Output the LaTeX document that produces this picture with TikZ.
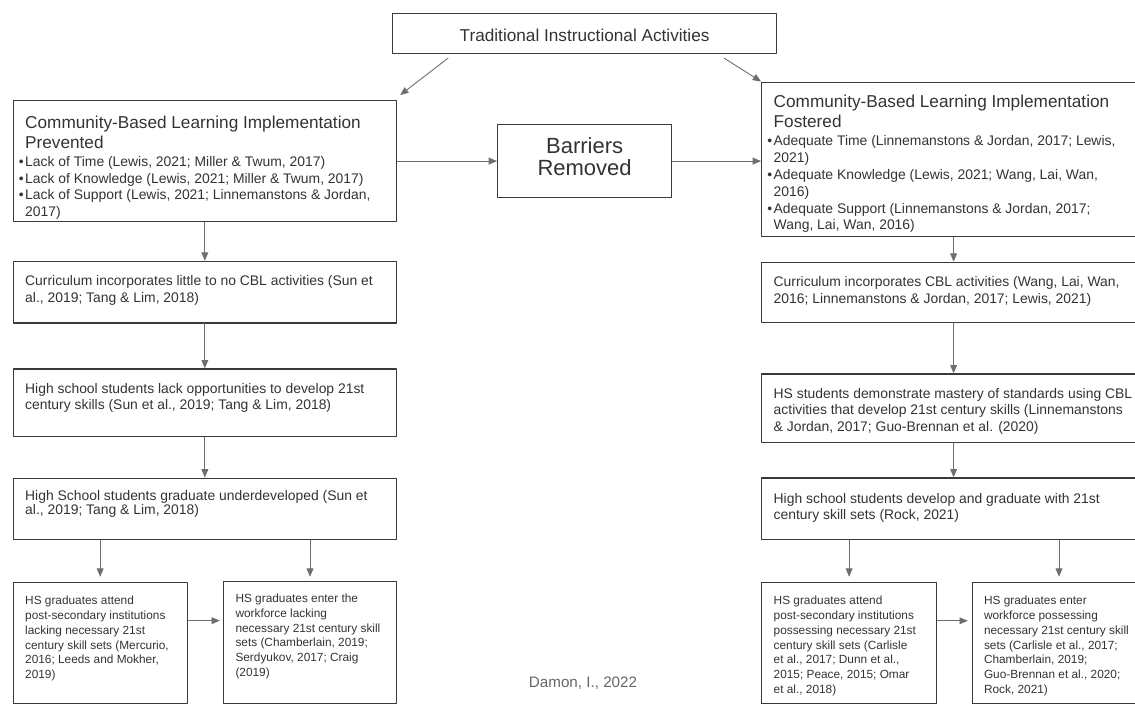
\documentclass[tikz,border=0pt]{standalone}
\usepackage{fontspec}
\setmainfont{Liberation Sans}
\usepackage{tikz}
\usetikzlibrary{arrows}
\definecolor{boxline}{HTML}{3A3A3A}
\definecolor{txtcol}{HTML}{333333}
\definecolor{arrcol}{HTML}{6E6E6E}
\definecolor{signcol}{HTML}{666666}
\newcommand{\bulletmark}{\llap{\textbullet\kern1.5pt}}

\begin{document}
\begin{tikzpicture}[line cap=round,line join=round,>=triangle 45,x=1pt,y=-1pt,
  box/.style={draw=boxline,line width=1.2pt,anchor=north west,inner sep=0pt},
  txt/.style={anchor=north west,inner sep=0pt,align=left,text=txtcol,font=\fontsize{13.9}{16.5}\selectfont},
  ttl/.style={txt,font=\fontsize{17.2}{20}\selectfont},
  sml/.style={txt,font=\fontsize{11.85}{14.7}\selectfont},
  arr/.style={->,draw=arrcol,line width=0.9pt}]
\useasboundingbox (0,0) rectangle (1135,704);
\clip (0,0) rectangle (1135,704);

\node[box,minimum width=384,minimum height=40] (top) at (392,13) {};
\node[ttl,anchor=center,align=center] (top-t) at ([yshift=-1.5pt]top.center) {Traditional Instructional Activities};

\node[box,minimum width=383.5,minimum height=121] (lbig) at (12.5,100) {};
\node[ttl] (lbig-t) at ([shift={(12.5,16.2)}]lbig.north west) {Community-Based Learning Implementation\\Prevented};
\node[txt] (lbig-b) at ([shift={(12.5,56.7)}]lbig.north west) {\bulletmark Lack of Time (Lewis, 2021; Miller \& Twum, 2017)\\
\bulletmark Lack of Knowledge (Lewis, 2021; Miller \& Twum, 2017)\\
\bulletmark Lack of Support (Lewis, 2021; Linnemanstons \& Jordan,\\
2017)};

\node[box,minimum width=174,minimum height=73] (barriers) at (497,124) {};
\node[txt,anchor=center,align=center,font=\fontsize{22}{22}\selectfont] (barriers-t) at ([yshift=4.4pt]barriers.center) {Barriers\\Removed};

\node[box,minimum width=384,minimum height=154.5] (rbig) at (761,81.5) {};
\node[ttl] (rbig-t) at ([shift={(12.5,13.7)}]rbig.north west) {Community-Based Learning Implementation\\Fostered};
\node[txt,font=\fontsize{13.9}{16.8}\selectfont] (rbig-b) at ([shift={(12.5,54.2)}]rbig.north west) {\bulletmark Adequate Time (Linnemanstons \& Jordan, 2017; Lewis,\\
2021)\\
\bulletmark Adequate Knowledge (Lewis, 2021; Wang, Lai, Wan,\\
2016)\\
\bulletmark Adequate Support (Linnemanstons \& Jordan, 2017;\\
Wang, Lai, Wan, 2016)};

\node[box,minimum width=383.5,minimum height=61.6] (lcur) at (12.5,260.7) {};
\node[txt] (lcur-t) at ([shift={(12.5,14.7)}]lcur.north west) {Curriculum incorporates little to no CBL activities (Sun et\\al., 2019; Tang \& Lim, 2018)};

\node[box,minimum width=383.5,minimum height=67.7] (lopp) at (12.5,368.3) {};
\node[txt] (lopp-t) at ([shift={(12.5,14.7)}]lopp.north west) {High school students lack opportunities to develop 21st\\century skills (Sun et al., 2019; Tang \& Lim, 2018)};

\node[box,minimum width=383.5,minimum height=61.5] (lgrad) at (12.5,477.5) {};
\node[txt,font=\fontsize{13.9}{14}\selectfont] (lgrad-t) at ([shift={(12.5,13)}]lgrad.north west) {High School students graduate underdeveloped (Sun et\\al., 2019; Tang \& Lim, 2018)};

\node[box,minimum width=174.2,minimum height=121.3] (lpost) at (12.5,581.7) {};
\node[sml] (lpost-t) at ([shift={(12.5,14.5)}]lpost.north west) {HS graduates attend\\post-secondary institutions\\lacking necessary 21st\\century skill sets (Mercurio,\\2016; Leeds and Mokher,\\2019)};

\node[box,minimum width=173.2,minimum height=122.3] (lwork) at (222.8,580.7) {};
\node[sml] (lwork-t) at ([shift={(12.5,13.3)}]lwork.north west) {HS graduates enter the\\workforce lacking\\necessary 21st century skill\\sets (Chamberlain, 2019;\\Serdyukov, 2017; Craig\\(2019)};

\node[box,minimum width=384,minimum height=60] (rcur) at (761,261.7) {};
\node[txt] (rcur-t) at ([shift={(12.5,14.7)}]rcur.north west) {Curriculum incorporates CBL activities (Wang, Lai, Wan,\\2016; Linnemanstons \& Jordan, 2017; Lewis, 2021)};

\node[box,minimum width=384,minimum height=68.4] (rmast) at (761,373.3) {};
\node[txt] (rmast-t) at ([shift={(12.5,14.7)}]rmast.north west) {HS students demonstrate mastery of standards using CBL\\activities that develop 21st century skills (Linnemanstons\\\& Jordan, 2017; Guo-Brennan et al. (2020)};

\node[box,minimum width=384,minimum height=61.7] (rgrad) at (761,477.3) {};
\node[txt] (rgrad-t) at ([shift={(12.5,15.5)}]rgrad.north west) {High school students develop and graduate with 21st\\century skill sets (Rock, 2021)};

\node[box,minimum width=175,minimum height=121.6] (rpost) at (761,581.7) {};
\node[sml] (rpost-t) at ([shift={(12.5,14.5)}]rpost.north west) {HS graduates attend\\post-secondary institutions\\possessing necessary 21st\\century skill sets (Carlisle\\et al., 2017; Dunn et al.,\\2015; Peace, 2015; Omar\\et al., 2018)};

\node[box,minimum width=173.2,minimum height=121.6] (rwork) at (971.8,581.7) {};
\node[sml] (rwork-t) at ([shift={(12,14.5)}]rwork.north west) {HS graduates enter\\workforce possessing\\necessary 21st century skill\\sets (Carlisle et al., 2017;\\Chamberlain, 2019;\\Guo-Brennan et al., 2020;\\Rock, 2021)};

\node[text=signcol,font=\fontsize{15.2}{18}\selectfont,inner sep=0pt] (sign) at (583,683) {Damon, I., 2022};

\draw[arr] ([shift={(56,4)}]top.south west) -- ([shift={(3,-5)}]lbig.north east);
\draw[arr] ([shift={(-53,4)}]top.south east) -- (rbig.north west);
\draw[arr] (lbig.east) -- (barriers.west);
\draw[arr] (barriers.east) -- (barriers.east -| rbig.west);
\draw[arr] (lbig.south) -- (lcur.north);
\draw[arr] (lcur.south) -- (lopp.north);
\draw[arr] (lopp.south) -- (lgrad.north);
\draw[arr,shorten >=5pt] (lpost.north |- lgrad.south) -- (lpost.north);
\draw[arr,shorten >=4pt] (lwork.north |- lgrad.south) -- (lwork.north);
\coordinate (lhz) at ([yshift=22.3pt]lpost.east);
\draw[arr,shorten >=3pt] (lhz) -- (lhz -| lwork.west);
\draw[arr] (rbig.south) -- (rcur.north);
\draw[arr] (rcur.south) -- (rmast.north);
\draw[arr] (rmast.south) -- (rgrad.north);
\draw[arr,shorten >=5pt] (rpost.north |- rgrad.south) -- (rpost.north);
\draw[arr,shorten >=5pt] (rwork.north |- rgrad.south) -- (rwork.north);
\coordinate (rhz) at ([yshift=22.3pt]rpost.east);
\draw[arr,shorten >=4pt] (rhz) -- (rhz -| rwork.west);
\end{tikzpicture}
\end{document}
